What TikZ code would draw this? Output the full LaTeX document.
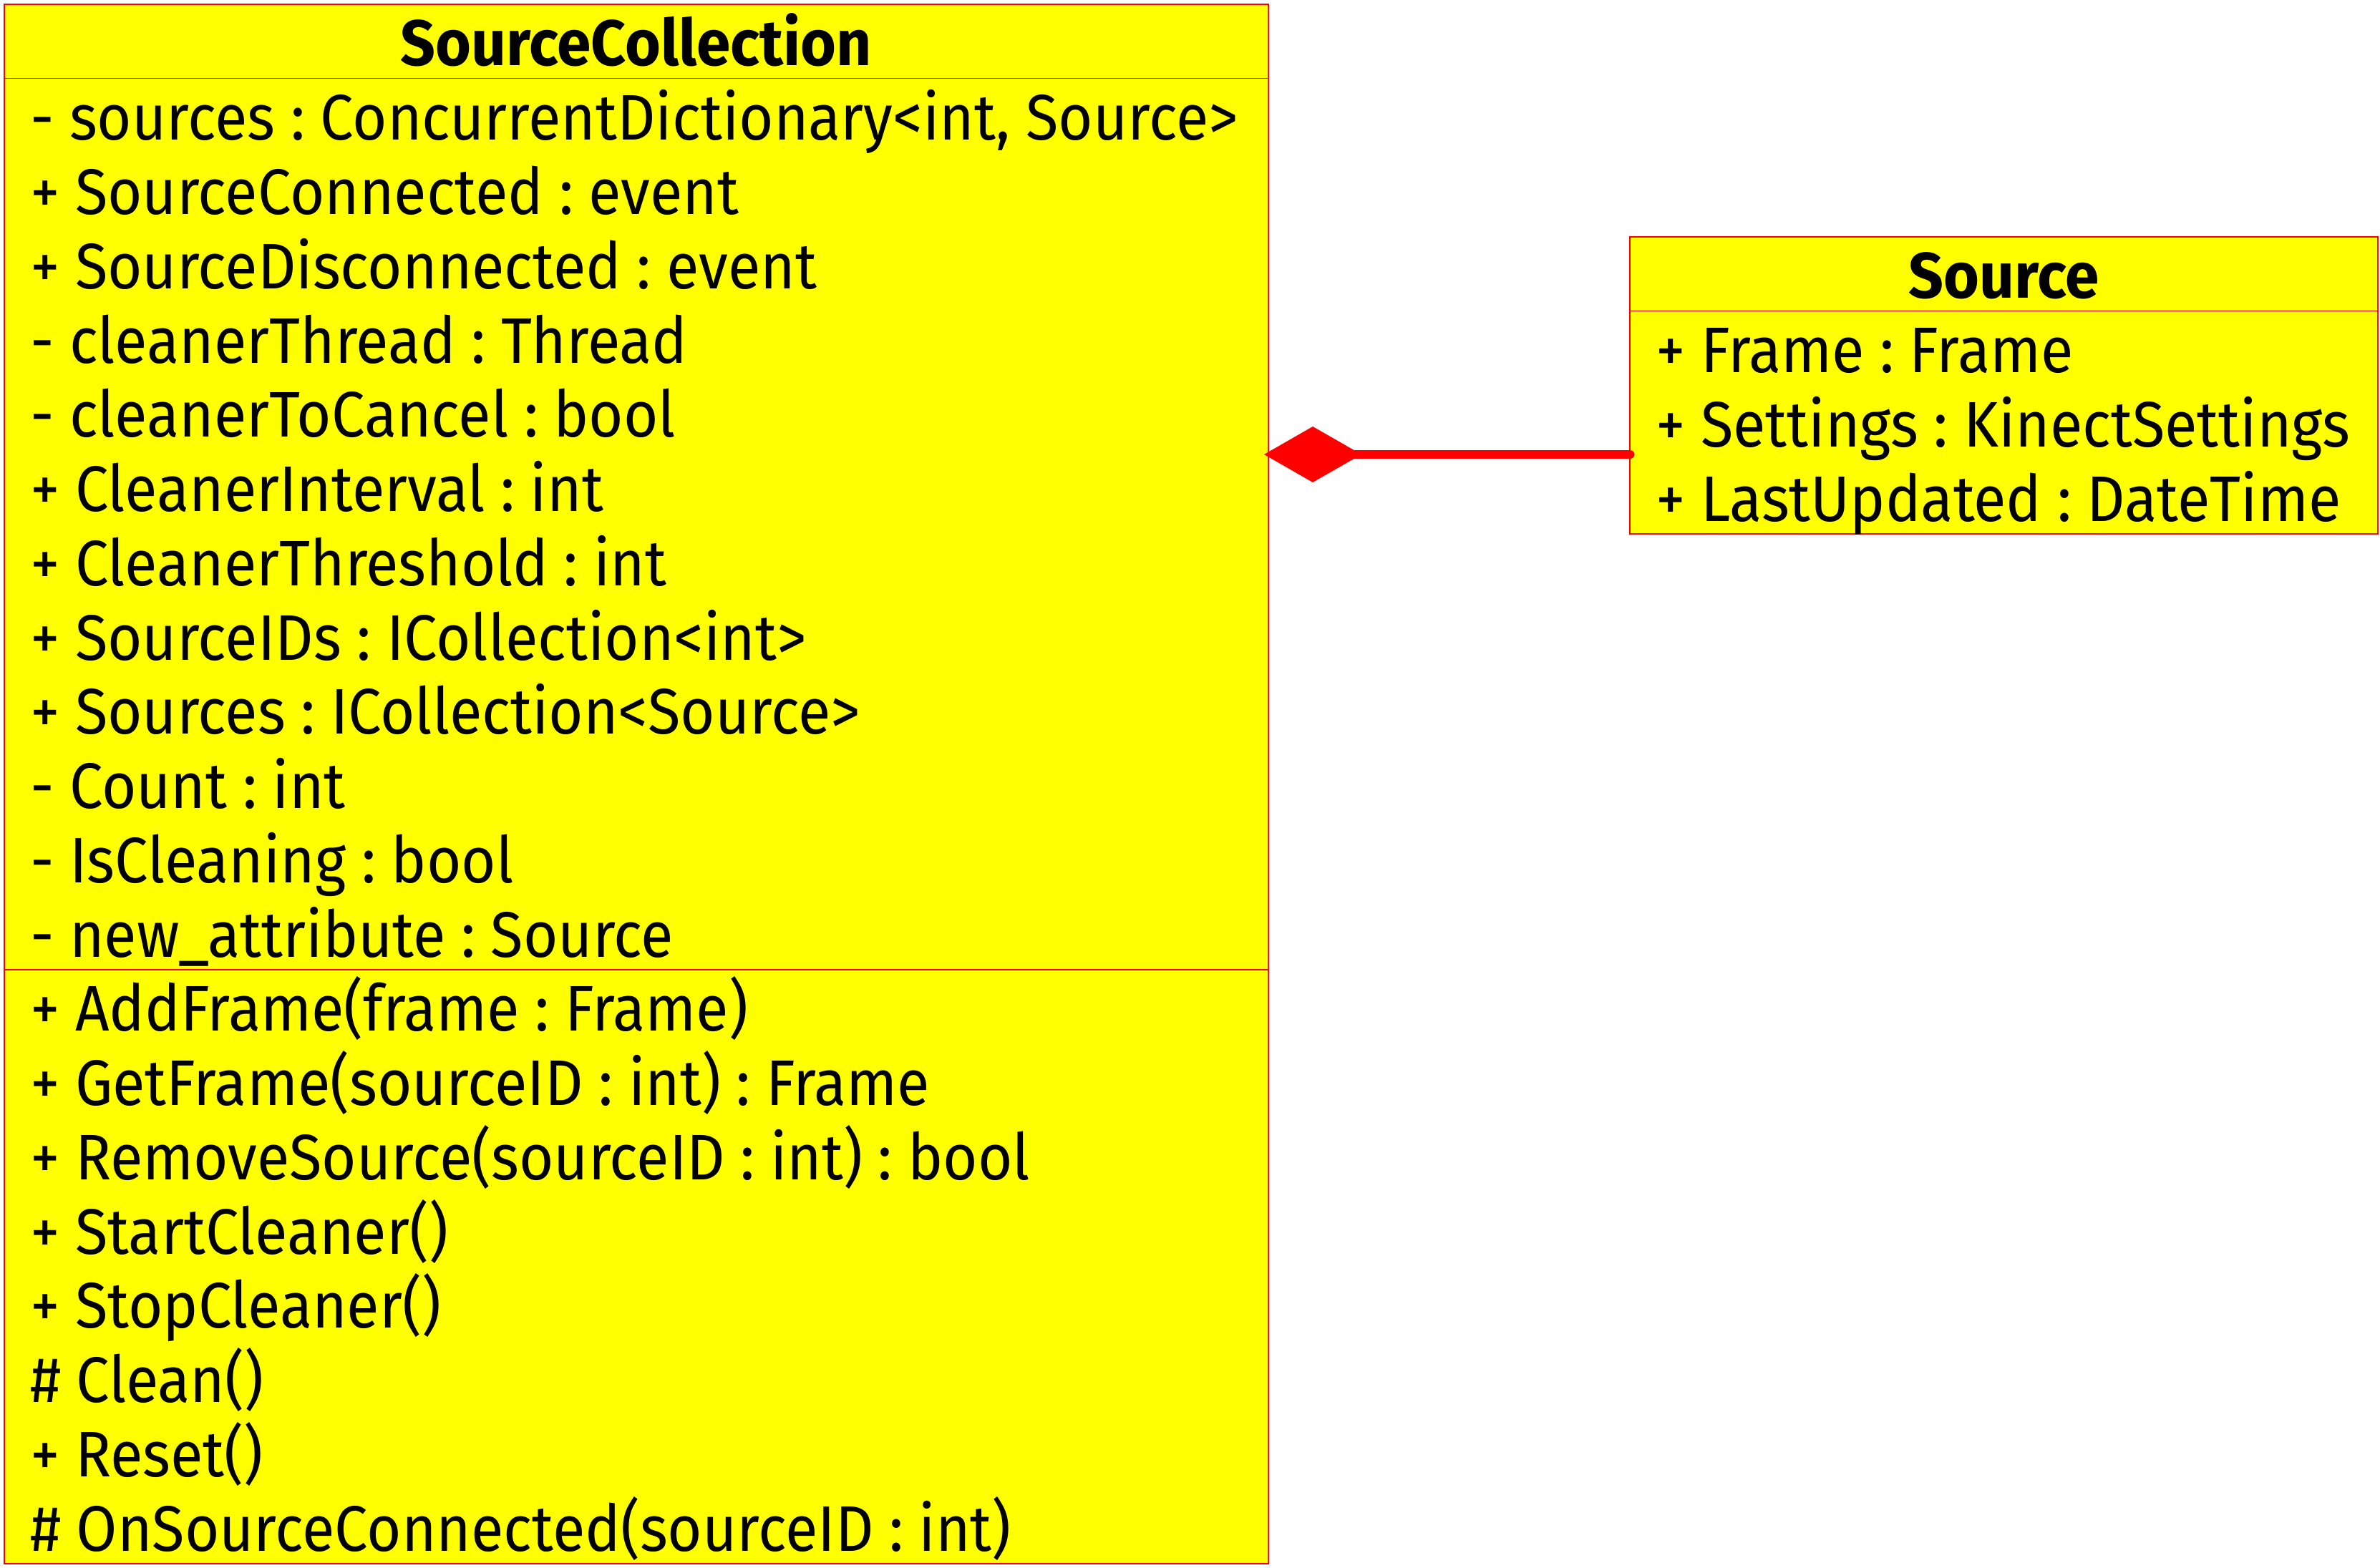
\documentclass[tikz,border=0pt]{standalone}
\usepackage{fontspec}
\setmainfont{Fira Sans}[FakeStretch=0.923, BoldFeatures={FakeStretch=0.95}]
\usetikzlibrary{positioning,arrows.meta}

\definecolor{classfill}{RGB}{255,255,0}
\definecolor{classline}{RGB}{255,0,0}

\tikzset {
  % one compartment of a class box, rows are 25.94pt high
  class box/.style = {
    draw = classline,
    fill = classfill,
    line width = 0.35pt,
    rectangle,
    outer sep = 0,
    inner xsep = 9pt,
    inner ysep = 0,
    text height = 21.5pt,
    font = \fontsize{22.5pt}{25.94pt}\selectfont
  },
  % class name
  class name/.style = {
    class box,
    align = center,
    text depth = 4.44pt,
    font = \fontsize{22.5pt}{25.94pt}\selectfont\bfseries
  },
  % attributes and operations, #1 = depth below the first baseline
  members/.style = {
    class box,
    align = left,
    text depth = #1,
    % fixed spaces, every member on one line
    execute at begin node = {\frenchspacing\spaceskip=5.4pt\hyphenpenalty=10000\rightskip=-40pt plus 1fil}
  },
  % composition: filled diamond at the whole
  composition/.style = {
    draw = classline,
    line width = 3.2pt,
    line cap = round,
    shorten <= -1.5pt,
    arrows = {Diamond[length=34pt, width=19.5pt]-}
  }
}

\begin{document}
\begin{tikzpicture}
  \useasboundingbox (0,0) rectangle (831.25pt,-547.75pt);

  % SourceCollection
  \node[class name, text width=423.5pt, anchor=north west] (coll head)
    at (1.5pt,-1.5pt) {SourceCollection};

  \node[members=289.78pt, text width=423.5pt] (coll attrs) [below=0pt of coll head] {%
    - sources : ConcurrentDictionary<int, Source>\\
    + SourceConnected : event\\
    + SourceDisconnected : event\\
    - cleanerThread : Thread\\
    - cleanerToCancel : bool\\
    + CleanerInterval : int\\
    + CleanerThreshold : int\\
    + SourceIDs : ICollection<int>\\
    + Sources : ICollection<Source>\\
    - Count : int\\
    - IsCleaning : bool\\
    - new\_attribute : Source};

  \node[members=186.02pt, text width=423.5pt] (coll ops) [below=0pt of coll attrs] {%
    + AddFrame(frame : Frame)\\
    + GetFrame(sourceID : int) : Frame\\
    + RemoveSource(sourceID : int) : bool\\
    + StartCleaner()\\
    + StopCleaner()\\
    \# Clean()\\
    + Reset()\\
    \# OnSourceConnected(sourceID : int)};

  % Source
  \node[class name, text width=243.25pt, anchor=north west] (src head)
    at (569.25pt,-82.75pt) {Source};

  \node[members=56.32pt, text width=243.25pt] (src attrs) [below=0pt of src head] {%
    + Frame : Frame\\
    + Settings : KinectSettings\\
    + LastUpdated : DateTime};

  % composition link
  \coordinate (link) at (0,-158.75pt);
  \draw[composition] (coll attrs.east |- link) -- (src attrs.west |- link);
\end{tikzpicture}
\end{document}
